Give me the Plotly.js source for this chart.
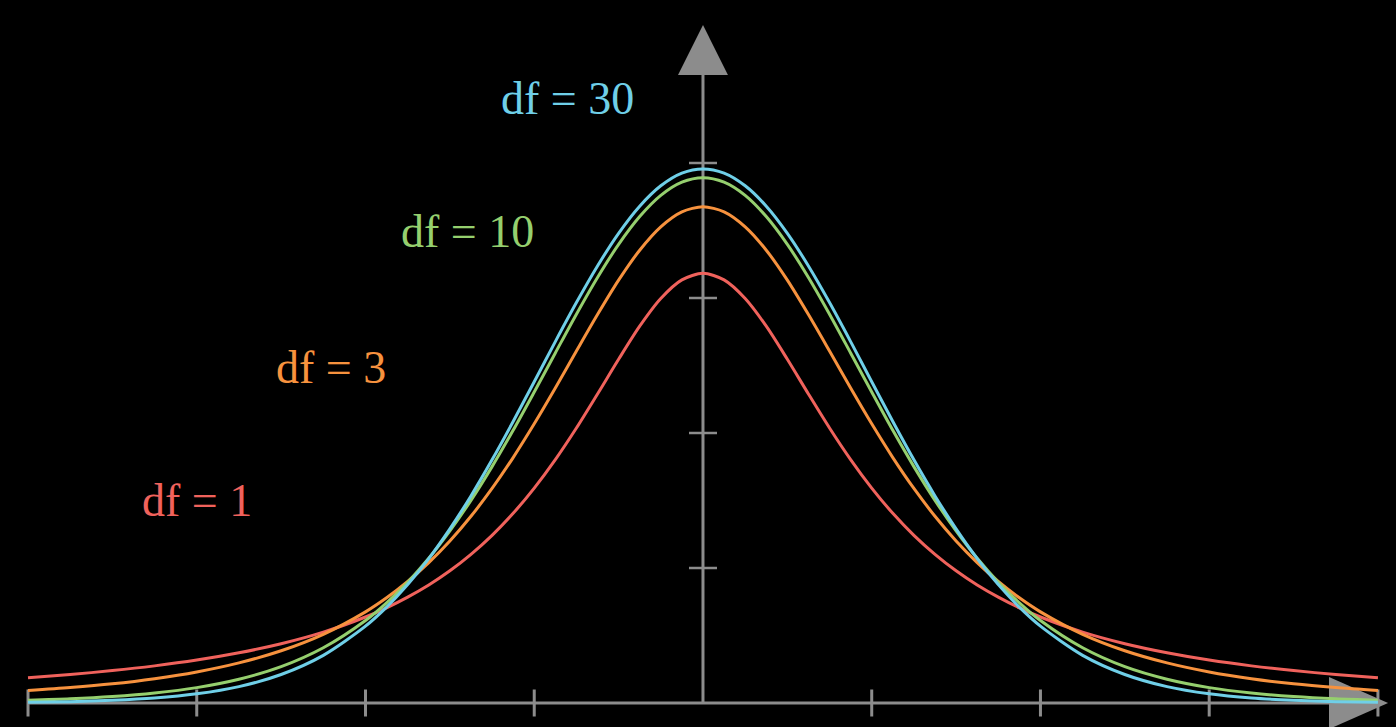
<!DOCTYPE html>
<html>
<head>
<meta charset="utf-8">
<script src="https://cdn.plot.ly/plotly-3.0.1.min.js"></script>
<style>html,body{margin:0;padding:0;background:#000;}#chart{width:1396px;height:727px;}</style>
</head>
<body>
<div id="chart"></div>
<script>
// x positions (t values)
const tValues = [-4,-3.75,-3.5,-3.25,-3,-2.75,-2.5,-2.25,-2,-1.875,-1.75,-1.625,-1.5,-1.375,-1.25,-1.125,-1,-0.875,-0.75,-0.625,-0.5,-0.375,-0.25,-0.125,0,0.125,0.25,0.375,0.5,0.625,0.75,0.875,1,1.125,1.25,1.375,1.5,1.625,1.75,1.875,2,2.25,2.5,2.75,3,3.25,3.5,3.75,4];
// density values
const df1 = [0.0187,0.0211,0.0240,0.0275,0.0318,0.0372,0.0439,0.0525,0.0637,0.0705,0.0784,0.0874,0.0979,0.1101,0.1242,0.1405,0.1592,0.1803,0.2037,0.2289,0.2546,0.2791,0.2996,0.3134,0.3183,0.3134,0.2996,0.2791,0.2546,0.2289,0.2037,0.1803,0.1592,0.1405,0.1242,0.1101,0.0979,0.0874,0.0784,0.0705,0.0637,0.0525,0.0439,0.0372,0.0318,0.0275,0.0240,0.0211,0.0187];
const df3 = [0.0092,0.0114,0.0142,0.0180,0.0230,0.0297,0.0387,0.0509,0.0675,0.0779,0.0900,0.1040,0.1200,0.1383,0.1589,0.1818,0.2068,0.2333,0.2607,0.2877,0.3132,0.3354,0.3527,0.3638,0.3676,0.3638,0.3527,0.3354,0.3132,0.2877,0.2607,0.2333,0.2068,0.1818,0.1589,0.1383,0.1200,0.1040,0.0900,0.0779,0.0675,0.0509,0.0387,0.0297,0.0230,0.0180,0.0142,0.0114,0.0092];
const df10 = [0.0020,0.0031,0.0048,0.0074,0.0114,0.0176,0.0269,0.0409,0.0611,0.0742,0.0895,0.1072,0.1275,0.1501,0.1751,0.2020,0.2304,0.2593,0.2880,0.3152,0.3397,0.3603,0.3760,0.3858,0.3891,0.3858,0.3760,0.3603,0.3397,0.3152,0.2880,0.2593,0.2304,0.2020,0.1751,0.1501,0.1275,0.1072,0.0895,0.0742,0.0611,0.0409,0.0269,0.0176,0.0114,0.0074,0.0048,0.0031,0.0020];
const df30 = [0.0005,0.0010,0.0020,0.0037,0.0068,0.0121,0.0211,0.0353,0.0569,0.0710,0.0877,0.1070,0.1290,0.1534,0.1801,0.2085,0.2380,0.2677,0.2966,0.3237,0.3479,0.3680,0.3831,0.3925,0.3956,0.3925,0.3831,0.3680,0.3479,0.3237,0.2966,0.2677,0.2380,0.2085,0.1801,0.1534,0.1290,0.1070,0.0877,0.0710,0.0569,0.0353,0.0211,0.0121,0.0068,0.0037,0.0020,0.0010,0.0005];
const seriesNames = ["df = 1","df = 3","df = 10","df = 30"];
const xTicks = [-4,-3,-2,-1,1,2,3,4];
const yTicks = [0.1,0.2,0.3,0.4];

const colors = ["#f0625c","#f7923e","#95cf6e","#6fcfe8"];
const series = [df1, df3, df10, df30];
const traces = series.map((ys, i) => ({
  x: tValues, y: ys, type: 'scatter', mode: 'lines', name: seriesNames[i],
  line: {color: colors[i], width: 3, shape: 'spline', smoothing: 0.8},
  hoverinfo: 'skip'
}));

const axisColor = '#8c8c8c';
const shapes = [];
// x axis
shapes.push({type:'line', xref:'x', yref:'y', x0:-4, x1:3.72, y0:0, y1:0, line:{color:axisColor, width:3}, layer:'below'});
// y axis
shapes.push({type:'line', xref:'x', yref:'y', x0:0, x1:0, y0:0, y1:0.466, line:{color:axisColor, width:3}, layer:'below'});
// x ticks
xTicks.forEach(v => shapes.push({type:'line', xref:'x', yref:'y', x0:v, x1:v, y0:-0.0100, y1:0.0100, line:{color:axisColor, width:3}, layer:'below'}));
// y ticks
yTicks.forEach(v => shapes.push({type:'line', xref:'x', yref:'y', x0:-0.083, x1:0.083, y0:v, y1:v, line:{color:axisColor, width:2.5}, layer:'below'}));
// arrow heads
shapes.push({type:'path', xref:'x', yref:'y', path:'M -0.148,0.4652 L 0.148,0.4652 L 0,0.5022 Z', fillcolor:axisColor, line:{width:0}, layer:'below'});
shapes.push({type:'path', xref:'x', yref:'y', path:'M 3.71,-0.0193 L 3.71,0.0193 L 4.06,0 Z', fillcolor:axisColor, line:{width:0}, layer:'below'});

const labelPos = [[197,500],[331,367],[467,232],[567,98]];
const annotations = seriesNames.map((t, i) => ({
  text: t, xref:'paper', yref:'paper', x: labelPos[i][0]/1396, y: 1 - labelPos[i][1]/727,
  xanchor:'center', yanchor:'middle', showarrow:false,
  font:{family:'"Liberation Serif", "DejaVu Serif", serif', size:46, color:colors[i]}
}));

const layout = {
  width:1396, height:727,
  margin:{l:0,r:0,t:0,b:0},
  paper_bgcolor:'#000', plot_bgcolor:'#000',
  showlegend:false,
  xaxis:{range:[-4.166,4.107], showgrid:false, zeroline:false, showticklabels:false, ticks:'', showline:false, fixedrange:true},
  yaxis:{range:[-0.01778,0.52074], showgrid:false, zeroline:false, showticklabels:false, ticks:'', showline:false, fixedrange:true},
  shapes: shapes,
  annotations: annotations
};
Plotly.newPlot('chart', traces, layout, {displayModeBar:false, staticPlot:true});
</script>
</body>
</html>
